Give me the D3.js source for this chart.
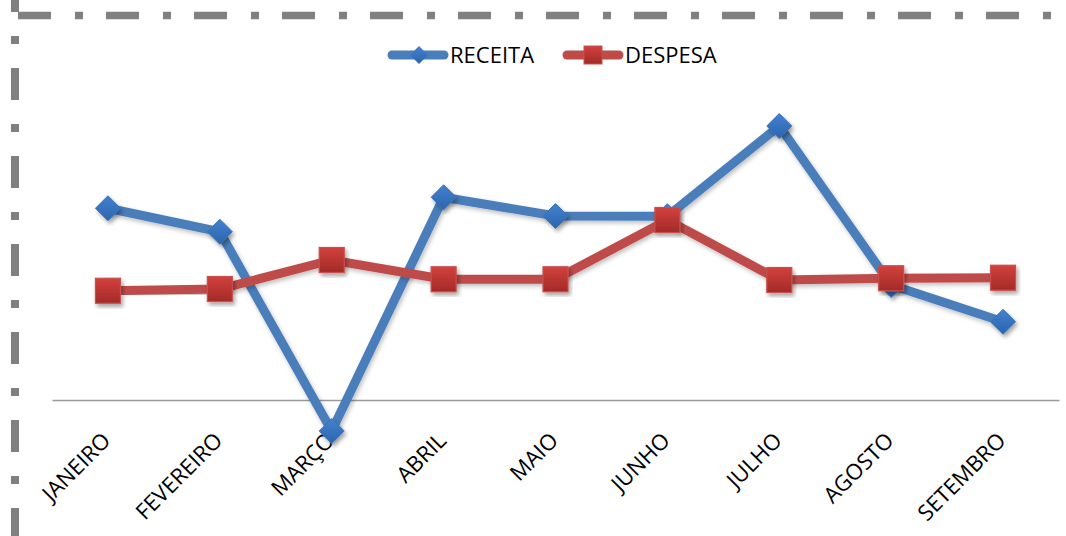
<!DOCTYPE html>
<html>
<head>
<meta charset="utf-8">
<script src="https://cdn.jsdelivr.net/npm/d3@7/dist/d3.min.js"></script>
<style>
  html, body { margin: 0; padding: 0; background: #fff; }
  svg { display: block; }
  text { font-family: "Open Sans", "Liberation Sans", sans-serif; fill: #000; }
</style>
</head>
<body>
<svg id="chart" width="1066" height="536"></svg>
<script>
const categories = ["JANEIRO", "FEVEREIRO", "MARÇO", "ABRIL", "MAIO", "JUNHO", "JULHO", "AGOSTO", "SETEMBRO"];
const receita = [7670, 6730, -1240, 8110, 7360, 7350, 10960, 4600, 3130];
const despesa = [4370, 4440, 5600, 4830, 4830, 7200, 4800, 4870, 4890];
const seriesNames = ["RECEITA", "DESPESA"];

const W = 1066, H = 536;
const svg = d3.select("#chart");
const defs = svg.append("defs");

// gradients
const gBlue = defs.append("linearGradient").attr("id", "gBlue").attr("x1", 0).attr("y1", 0).attr("x2", 0).attr("y2", 1);
gBlue.append("stop").attr("offset", "0%").attr("stop-color", "#4282d0");
gBlue.append("stop").attr("offset", "100%").attr("stop-color", "#2c64ae");
const gRed = defs.append("linearGradient").attr("id", "gRed").attr("x1", 0).attr("y1", 0).attr("x2", 0).attr("y2", 1);
gRed.append("stop").attr("offset", "0%").attr("stop-color", "#d2413d");
gRed.append("stop").attr("offset", "100%").attr("stop-color", "#a32a27");

const f = defs.append("filter").attr("id", "shadow").attr("x", "-20%").attr("y", "-20%").attr("width", "140%").attr("height", "140%");
f.append("feDropShadow").attr("dx", 2).attr("dy", 3).attr("stdDeviation", 2).attr("flood-color", "#000").attr("flood-opacity", 0.35);
const fl = defs.append("filter").attr("id", "lshadow").attr("x", "-5%").attr("y", "-5%").attr("width", "110%").attr("height", "110%");
fl.append("feDropShadow").attr("dx", 1.5).attr("dy", 2.5).attr("stdDeviation", 2).attr("flood-color", "#000").attr("flood-opacity", 0.25);

// border (dash-dot)
svg.append("line").attr("x1", 18).attr("x2", W + 10).attr("y1", 15.5).attr("y2", 15.5)
  .attr("stroke", "#808080").attr("stroke-width", 7.5).attr("stroke-dasharray", "33 24 8 23");
svg.append("line").attr("x1", 15).attr("x2", 15).attr("y1", -20).attr("y2", H + 10)
  .attr("stroke", "#808080").attr("stroke-width", 8).attr("stroke-dasharray", "32 24 8 24");

// scales
const x = d3.scaleBand().domain(categories).range([52, 1059]);
const y = d3.scaleLinear().domain([0, 14000]).range([400, 50]);
const cx = d => x(d) + x.bandwidth() / 2;

// baseline axis
const axis = d3.axisBottom(x).tickSize(0).tickFormat("");
const ax = svg.append("g").attr("transform", `translate(0,${y(0)})`).call(axis);
ax.select(".domain").attr("stroke", "#9a9a9a").attr("stroke-width", 1.5);

// category labels
svg.append("g").selectAll("text").data(categories).join("text")
  .attr("transform", d => `translate(${cx(d) + 4},${442}) rotate(-45)`)
  .attr("text-anchor", "end")
  .style("font-size", "22px")
  .text(d => d);

const line = d3.line().x((d, i) => cx(categories[i])).y(d => y(d));

const colors = { RECEITA: "#4a7ebb", DESPESA: "#be4b48" };

function diamond(g, px, py, s) {
  g.append("path")
    .attr("d", `M${px},${py - s} L${px + s},${py} L${px},${py + s} L${px - s},${py} Z`)
    .attr("fill", "url(#gBlue)").attr("stroke", "#3a72b8").attr("stroke-width", 1)
    .attr("filter", "url(#shadow)");
}
function square(g, px, py, s) {
  g.append("rect").attr("x", px - s).attr("y", py - s).attr("width", 2 * s).attr("height", 2 * s)
    .attr("fill", "url(#gRed)").attr("stroke", "#c8514e").attr("stroke-width", 1.2)
    .attr("filter", "url(#shadow)");
}

// RECEITA
const gR = svg.append("g");
gR.append("path").datum(receita).attr("d", line).attr("fill", "none")
  .attr("stroke", colors.RECEITA).attr("stroke-width", 9).attr("stroke-linejoin", "miter").attr("stroke-miterlimit", 3)
  .attr("filter", "url(#lshadow)");
receita.forEach((v, i) => diamond(gR, cx(categories[i]), y(v), 12.5));

// DESPESA
const gD = svg.append("g");
gD.append("path").datum(despesa).attr("d", line).attr("fill", "none")
  .attr("stroke", colors.DESPESA).attr("stroke-width", 9).attr("stroke-linejoin", "miter")
  .attr("filter", "url(#lshadow)");
despesa.forEach((v, i) => square(gD, cx(categories[i]), y(v), 12.5));

// legend
const leg = svg.append("g");
const legItems = [
  { name: "RECEITA", x0: 388, x1: 448, mx: 419, tx: 450, m: "d" },
  { name: "DESPESA", x0: 563, x1: 623, mx: 593, tx: 625, m: "s" }
];
legItems.forEach(it => {
  leg.append("line").attr("x1", it.x0 + 4).attr("x2", it.x1 - 4).attr("y1", 55).attr("y2", 55)
    .attr("stroke", colors[it.name]).attr("stroke-width", 9).attr("stroke-linecap", "round");
  if (it.m === "d") {
    leg.append("path").attr("d", `M${it.mx},${55 - 9} L${it.mx + 9},55 L${it.mx},${55 + 9} L${it.mx - 9},55 Z`)
      .attr("fill", "url(#gBlue)");
  } else {
    leg.append("rect").attr("x", it.mx - 9).attr("y", 46).attr("width", 18).attr("height", 18)
      .attr("fill", "url(#gRed)").attr("stroke", "#c8514e");
  }
  leg.append("text").attr("x", it.tx).attr("y", 63).style("font-size", "22px").text(it.name);
});
</script>
</body>
</html>
